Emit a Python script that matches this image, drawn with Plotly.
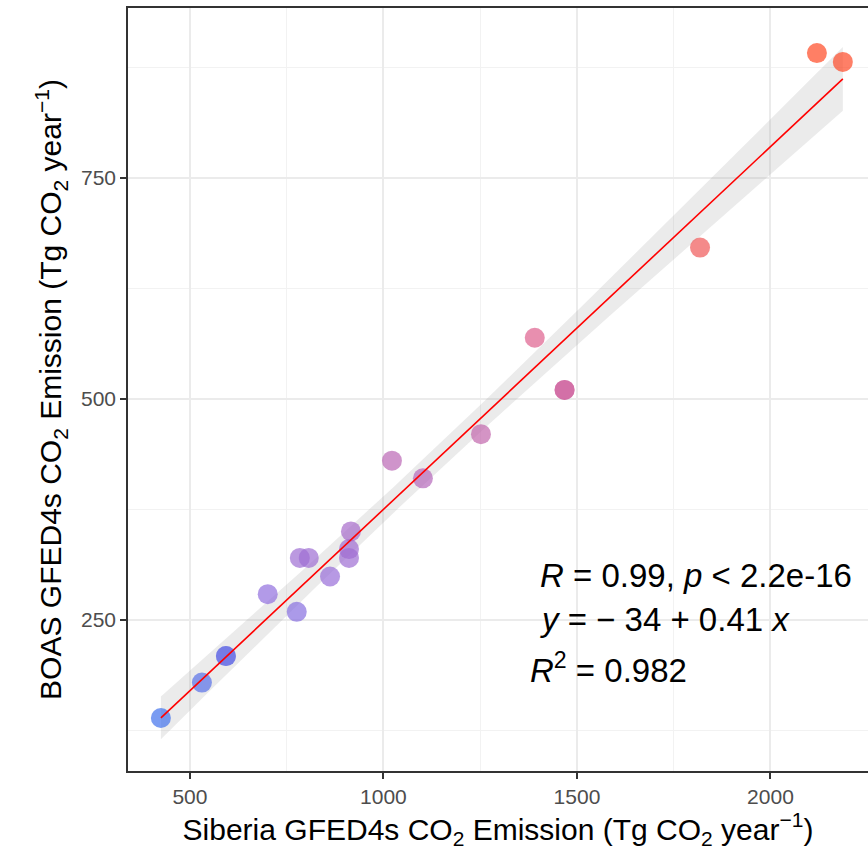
import numpy as np
import plotly.graph_objects as go

# Data
siberia = [425, 531, 593, 593, 701, 776, 784, 807, 862, 911, 911, 916,
           1022, 1102, 1252, 1391, 1468, 1468, 1818, 2120, 2187]
boas = [139, 179, 209, 209, 279, 259, 320, 320, 299, 320, 330, 350,
        430, 410, 460, 569, 510, 510, 671, 891, 881]

x_ticks = [500, 1000, 1500, 2000]
y_ticks = [250, 500, 750]

x = np.array(siberia, dtype=float)
y = np.array(boas, dtype=float)
n = len(x)
slope, intercept = np.polyfit(x, y, 1)
resid = y - (intercept + slope * x)
s = np.sqrt(np.sum(resid ** 2) / (n - 2))
xbar = x.mean()
sxx = np.sum((x - xbar) ** 2)
t_crit = 2.093  # t(0.975, df=19)
xs = np.linspace(x.min(), x.max(), 80)
fit = intercept + slope * xs
se = s * np.sqrt(1 / n + (xs - xbar) ** 2 / sxx)
lo = fit - t_crit * se
hi = fit + t_crit * se

fig = go.Figure()
fig.add_trace(go.Scatter(
    x=np.concatenate([xs, xs[::-1]]), y=np.concatenate([hi, lo[::-1]]),
    fill="toself", fillcolor="rgba(153,153,153,0.2)", line=dict(width=0),
    hoverinfo="skip", showlegend=False))
fig.add_trace(go.Scatter(
    x=x, y=y, mode="markers",
    marker=dict(size=20, color=y, cmin=y.min(), cmax=y.max(),
                colorscale=[[0.0, "#4272EC"], [0.19, "#946FDE"], [0.57, "#DE608E"],
                            [0.71, "#EF5858"], [1.0, "#FF4824"]],
                opacity=0.7, line=dict(width=0)),
    showlegend=False))
fig.add_trace(go.Scatter(x=xs, y=fit, mode="lines", line=dict(color="red", width=1.6),
                         showlegend=False))

ann_font = dict(family="Liberation Sans, Arial", size=33, color="black")
fig.add_annotation(x=1400, y=300, text="<i>R</i> = 0.99, <i>p</i> < 2.2e-16",
                   showarrow=False, xanchor="left", yanchor="middle", font=ann_font)
fig.add_annotation(x=1400, y=250, text="<i>y</i> = \u2212 34 + 0.41 <i>x</i>",
                   showarrow=False, xanchor="left", yanchor="middle", font=ann_font)
fig.add_annotation(x=1374, y=196, text="<i>R</i><sup>2</sup> = 0.982",
                   showarrow=False, xanchor="left", yanchor="middle", font=ann_font)

axis_common = dict(
    showgrid=True, gridcolor="#EBEBEB", gridwidth=1.6, zeroline=False,
    ticks="outside", ticklen=6, tickwidth=1.5, tickcolor="#333333",
    tickfont=dict(family="Liberation Sans, Arial", size=21, color="#4D4D4D"),
    showline=True, linecolor="#333333", linewidth=1.6,
)
fig.update_xaxes(**axis_common, range=[340, 2252], tickvals=x_ticks, mirror=True,
                 minor=dict(dtick=250, tick0=0, showgrid=True, gridcolor="#F2F2F2", gridwidth=0.9),
                 title=dict(text="Siberia GFED4s CO<sub>2</sub> Emission (Tg CO<sub>2</sub> year<sup>\u22121</sup>)",
                            font=dict(family="Liberation Sans, Arial", size=30, color="black"),
                            standoff=10))
fig.update_yaxes(**axis_common, range=[79, 942], tickvals=y_ticks,
                 minor=dict(dtick=125, tick0=0, showgrid=True, gridcolor="#F2F2F2", gridwidth=0.9),
                 title=dict(text="BOAS GFED4s CO<sub>2</sub> Emission (Tg CO<sub>2</sub> year<sup>\u22121</sup>)",
                            font=dict(family="Liberation Sans, Arial", size=30, color="black"),
                            standoff=10))
fig.update_layout(width=868, height=865, margin=dict(l=128, r=0, t=8, b=94),
                  plot_bgcolor="white", paper_bgcolor="white", showlegend=False)
fig.write_html("out.html")
